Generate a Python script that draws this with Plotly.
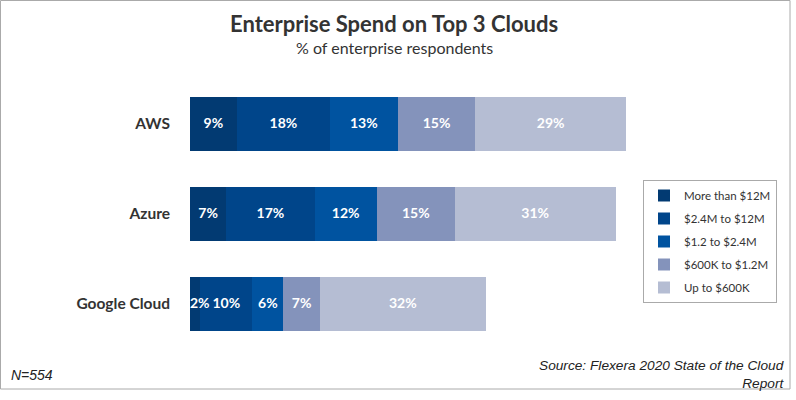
import plotly.graph_objects as go

categories = ["AWS", "Azure", "Google Cloud"]
series_names = ["More than $12M", "$2.4M to $12M", "$1.2 to $2.4M", "$600K to $1.2M", "Up to $600K"]
more_than_12m = [9, 7, 2]
from_2_4m_to_12m = [18, 17, 10]
from_1_2_to_2_4m = [13, 12, 6]
from_600k_to_1_2m = [15, 15, 7]
up_to_600k = [29, 31, 32]
series_values = [more_than_12m, from_2_4m_to_12m, from_1_2_to_2_4m, from_600k_to_1_2m, up_to_600k]
colors = ["#023a72", "#00458a", "#0053a0", "#8493bb", "#b5bdd3"]

fig = go.Figure()
for i, (name, vals, col) in enumerate(zip(series_names, series_values, colors)):
    fig.add_trace(go.Bar(
        y=categories, x=vals, name=name, orientation="h",
        marker=dict(color=col, line=dict(width=0)),
        legendgroup=f"g{i}", hoverinfo="skip",
    ))

# value labels drawn on top of all bars (so narrow segments' labels are not hidden)
base = [0] * len(categories)
for vals in series_values:
    xs = [b + v / 2 if v >= 4 else b for b, v in zip(base, vals)]
    pos = ["middle center" if v >= 4 else "middle right" for v in vals]
    fig.add_trace(go.Scatter(
        x=xs, y=categories, mode="text", text=[f"{v}%" for v in vals],
        textposition=pos,
        textfont=dict(color="white", size=14, family="Lato", weight="bold"),
        showlegend=False, hoverinfo="skip", cliponaxis=False,
    ))
    base = [b + v for b, v in zip(base, vals)]

L, T = 190, 79
W, H = 450, 270
px_per = 5.19

def px_x(p):
    return (p - L) / W

def px_y(p):
    return (T + H - p) / H

fig.update_layout(
    width=796, height=400,
    margin=dict(l=L, r=796 - L - W, t=T, b=400 - T - H, autoexpand=False),
    barmode="stack", bargap=0.4,
    plot_bgcolor="white", paper_bgcolor="white",
    font=dict(family="Lato", color="#333333"),
    xaxis=dict(range=[0, W / px_per], visible=False, fixedrange=True),
    yaxis=dict(autorange="reversed", showgrid=False, showline=False, ticks="",
               tickfont=dict(size=15.5, family="Lato", color="#333333", weight="bold"),
               ticklabelstandoff=19, fixedrange=True),
    legend=dict(x=px_x(643), xanchor="left", y=px_y(241.5), yanchor="middle",
                bordercolor="#aaaaaa", borderwidth=1, bgcolor="white",
                font=dict(size=11.5, family="Lato", color="#333333"),
                traceorder="grouped", tracegroupgap=4,
                itemwidth=30),
    showlegend=True,
    shapes=[dict(type="rect", xref="paper", yref="paper",
                 x0=px_x(0.5), x1=px_x(790), y0=px_y(389), y1=px_y(0.5),
                 line=dict(color="#aaaaaa", width=1), fillcolor="rgba(0,0,0,0)", layer="below")],
    annotations=[
        dict(text="<b>Enterprise Spend on Top 3 Clouds</b>", xref="paper", yref="paper",
             x=px_x(394), y=px_y(24), xanchor="center", yanchor="middle", showarrow=False,
             font=dict(size=22, family="Lato", color="#333333")),
        dict(text="% of enterprise respondents", xref="paper", yref="paper",
             x=px_x(394), y=px_y(47), xanchor="center", yanchor="middle", showarrow=False,
             font=dict(size=16, family="Lato", color="#333333")),
        dict(text="<i>N=554</i>", xref="paper", yref="paper",
             x=px_x(9), y=px_y(375), xanchor="left", yanchor="middle", showarrow=False,
             font=dict(size=14, family="Liberation Sans", color="#222222")),
        dict(text="<i>Source: Flexera 2020 State of the Cloud<br>Report</i>", xref="paper", yref="paper",
             x=px_x(786), y=px_y(374), xanchor="right", yanchor="middle", align="right",
             showarrow=False,
             font=dict(size=13.7, family="Liberation Sans", color="#222222")),
    ],
)

fig.write_html("out.html")
